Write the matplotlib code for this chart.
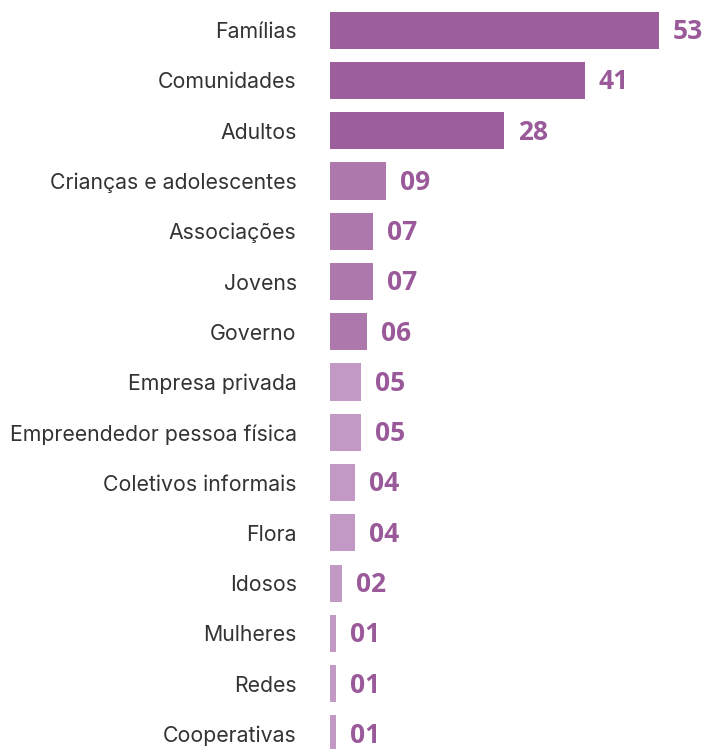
import matplotlib.pyplot as plt
import numpy as np

categories = ['Famílias', 'Comunidades', 'Adultos', 'Crianças e adolescentes',
              'Associações', 'Jovens', 'Governo', 'Empresa privada',
              'Empreendedor pessoa física', 'Coletivos informais', 'Flora',
              'Idosos', 'Mulheres', 'Redes', 'Cooperativas']
values = [53, 41, 28, 9, 7, 7, 6, 5, 5, 4, 4, 2, 1, 1, 1]
value_labels = ['53', '41', '28', '09', '07', '07', '06', '05', '05', '04',
                '04', '02', '01', '01', '01']


def bar_color(v):
    if v >= 20:
        return '#9c5f9c'
    if v >= 6:
        return '#ad79ad'
    return '#c298c4'


fig = plt.figure(figsize=(7.13, 7.49), dpi=100)
ax = fig.add_axes([330 / 713, 0, 383 / 713, 1])

y = np.arange(len(categories))
ax.barh(y, values, height=0.74, color=[bar_color(v) for v in values])

ax.set_xlim(0, 383 / 6.21)
ax.set_ylim(len(categories) - 1 + 0.3, -0.6)

for yi, v, lab in zip(y, values, value_labels):
    ax.annotate(lab, (v, yi), xytext=(10, -1), textcoords='offset points',
                ha='left', va='center', fontsize=19, fontweight='bold',
                color='#9a5a9a', family='Open Sans')

ax.set_yticks(y)
ax.set_yticklabels(categories, fontsize=15.3, color='#333333', family='Inter')
ax.tick_params(axis='y', length=0, pad=24)
ax.set_xticks([])
for s in ax.spines.values():
    s.set_visible(False)

fig.savefig('out.png', dpi=100)
